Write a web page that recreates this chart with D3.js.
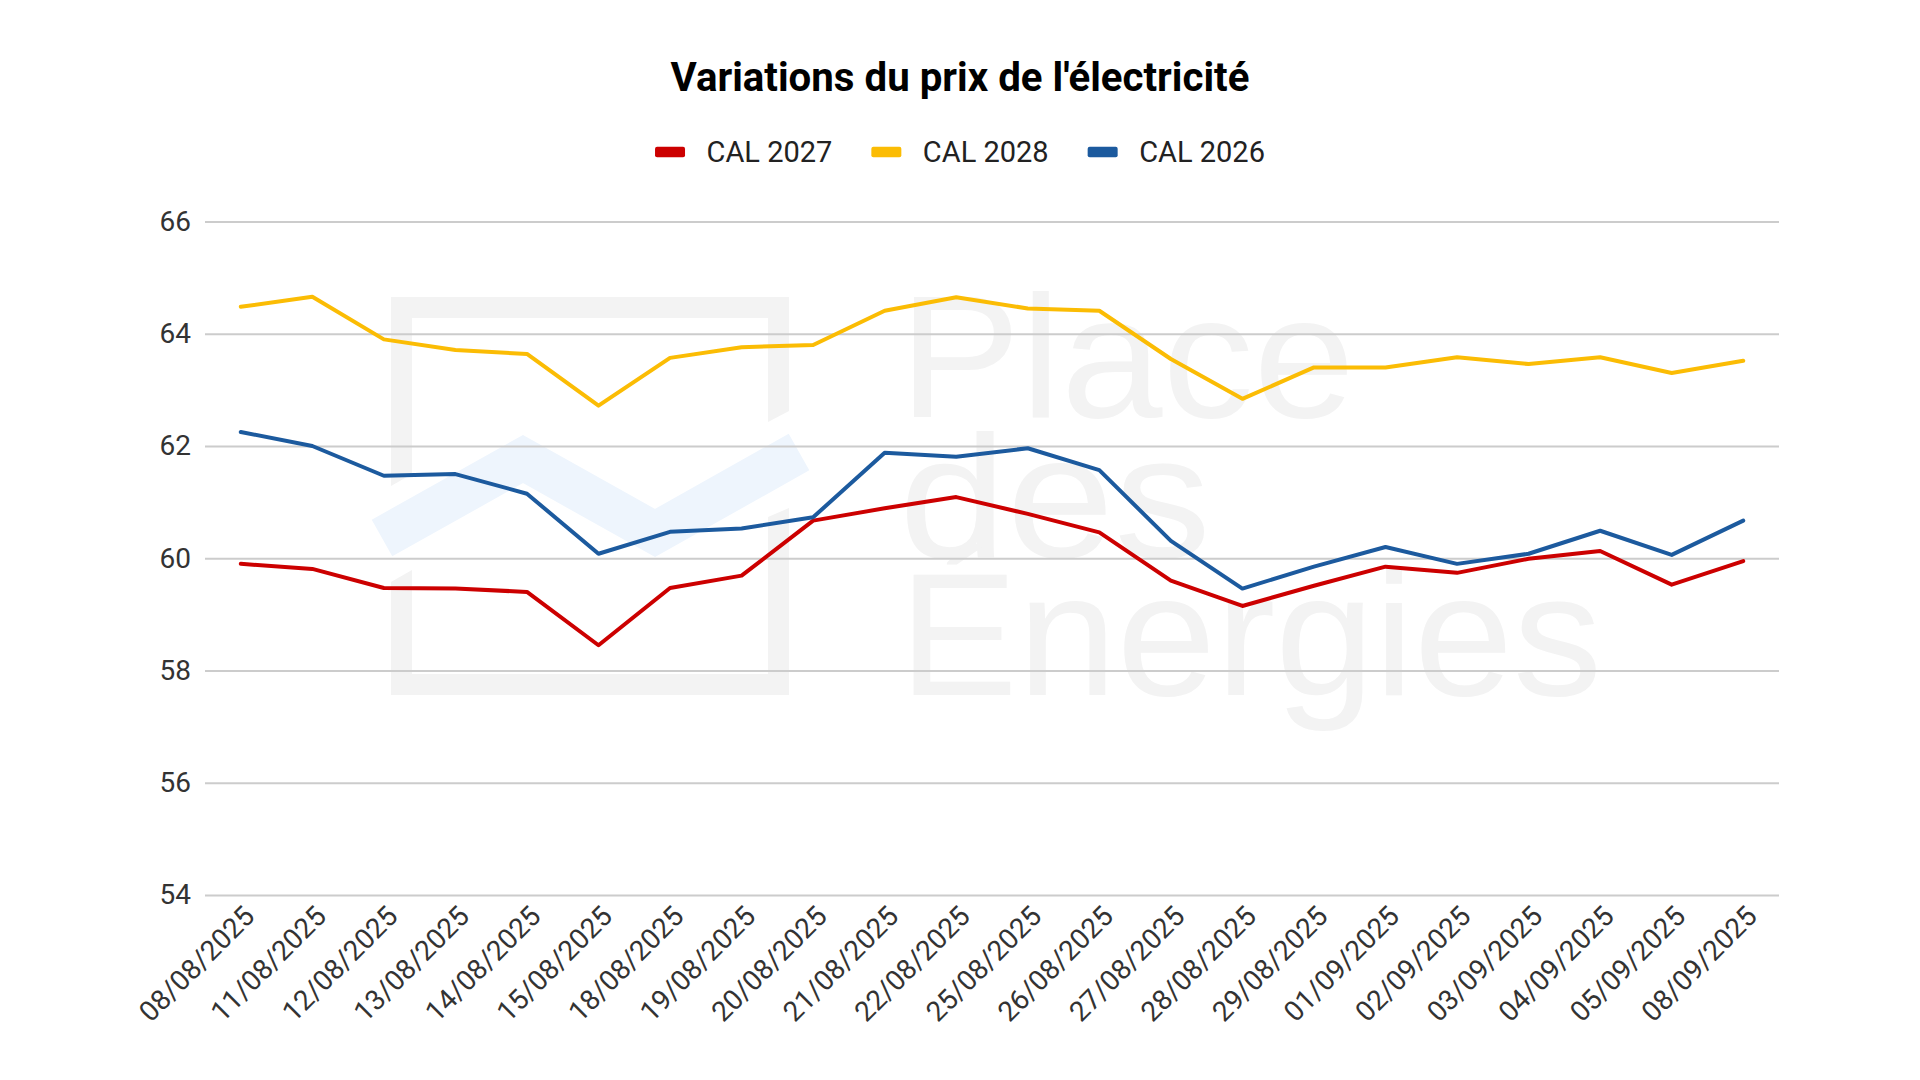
<!DOCTYPE html>
<html>
<head>
<meta charset="utf-8">
<script src="https://cdn.jsdelivr.net/npm/d3@7/dist/d3.min.js"></script>
<style>
  html, body { margin: 0; padding: 0; background: #fff; }
  svg { display: block; }
</style>
</head>
<body>
<svg id="chart" width="1920" height="1080"></svg>
<script>
// ---------- data ----------
const title = "Variations du prix de l'électricité";
const dates = ["08/08/2025","11/08/2025","12/08/2025","13/08/2025","14/08/2025","15/08/2025","18/08/2025","19/08/2025","20/08/2025","21/08/2025","22/08/2025","25/08/2025","26/08/2025","27/08/2025","28/08/2025","29/08/2025","01/09/2025","02/09/2025","03/09/2025","04/09/2025","05/09/2025","08/09/2025"];
const seriesNames = ["CAL 2027", "CAL 2028", "CAL 2026"];
const cal2027 = [59.90, 59.81, 59.47, 59.46, 59.40, 58.45, 59.47, 59.69, 60.67, 60.89, 61.09, 60.79, 60.46, 59.60, 59.15, 59.51, 59.85, 59.74, 59.99, 60.13, 59.53, 59.95];
const cal2028 = [64.48, 64.66, 63.90, 63.71, 63.64, 62.72, 63.57, 63.76, 63.80, 64.41, 64.65, 64.45, 64.41, 63.55, 62.84, 63.40, 63.40, 63.58, 63.46, 63.58, 63.30, 63.52];
const cal2026 = [62.25, 62.00, 61.47, 61.50, 61.15, 60.08, 60.47, 60.53, 60.73, 61.88, 61.81, 61.96, 61.57, 60.31, 59.46, 59.85, 60.20, 59.90, 60.08, 60.49, 60.06, 60.67];
const yTicks = [54, 56, 58, 60, 62, 64, 66];

// ---------- styles ----------
const colors = ["#cc0000", "#fbbc04", "#1c5a9e"];
const seriesValues = [cal2027, cal2028, cal2026];
const series = seriesNames.map((name, i) => ({ name, color: colors[i], values: seriesValues[i] }));

const W = 1920, H = 1080;
const plot = { left: 205, right: 1779, top: 221.5, bottom: 895 };
const font = "Roboto, 'Liberation Sans', Arial, sans-serif";

const svg = d3.select("#chart");
svg.append("rect").attr("width", W).attr("height", H).attr("fill", "#fff");

const x = d3.scalePoint().domain(dates).range([plot.left, plot.right]).padding(0.5);
const y = d3.scaleLinear().domain([54, 66]).range([plot.bottom, plot.top]);

// ---------- watermark (decoration) ----------
const wm = svg.append("g").attr("class", "watermark");
const grey = "#f3f3f3";
const logoPolys = [
  [[391,297],[789,297],[789,318],[391,318]],
  [[391,674],[789,674],[789,695],[391,695]],
  [[391,297],[412,297],[412,474],[391,486]],
  [[391,582],[412,570],[412,695],[391,695]],
  [[768,297],[789,297],[789,411],[768,422]],
  [[768,517],[789,508],[789,695],[768,695]]
];
wm.selectAll("polygon").data(logoPolys).join("polygon")
  .attr("points", d => d.map(p => p.join(",")).join(" "))
  .attr("fill", grey);
wm.append("polyline")
  .attr("points", "382,538 523,459 655,533 799,452")
  .attr("fill", "none").attr("stroke", "#eef5fd").attr("stroke-width", 42)
  .attr("stroke-linejoin", "miter").attr("stroke-linecap", "butt");
const wmWords = [["Place", 417, 456], ["des", 557, 312], ["Énergies", 695, 703]];
wm.selectAll("text").data(wmWords).join("text")
  .attr("x", 899).attr("y", d => d[1])
  .attr("font-family", "'Liberation Sans', Arial, sans-serif")
  .attr("font-size", 175)
  .attr("textLength", d => d[2])
  .attr("lengthAdjust", "spacingAndGlyphs")
  .attr("fill", grey)
  .text(d => d[0]);

// ---------- grid + y axis ----------
const yAxis = d3.axisLeft(y).tickValues(yTicks).tickSize(-(plot.right - plot.left)).tickPadding(14).tickFormat(d3.format("d"));
const gy = svg.append("g").attr("transform", `translate(${plot.left},0)`).call(yAxis);
gy.select(".domain").remove();
gy.selectAll(".tick line").attr("stroke", "#cccccc").attr("stroke-width", 2);
gy.selectAll(".tick text").attr("font-family", font).attr("font-size", 28).attr("fill", "#333");

// ---------- x axis ----------
const xAxis = d3.axisBottom(x).tickSize(0);
const gx = svg.append("g").attr("transform", `translate(0,${plot.bottom})`).call(xAxis);
gx.select(".domain").remove();
gx.selectAll(".tick text")
  .attr("font-family", font).attr("font-size", 28).attr("fill", "#333")
  .attr("x", 0).attr("y", 0).attr("dy", "0.35em")
  .attr("text-anchor", "end")
  .attr("transform", "translate(8,16) rotate(-45)");

// ---------- lines ----------
const line = d3.line().x((d, i) => x(dates[i])).y(d => y(d));
svg.append("g").selectAll("path").data(series).join("path")
  .attr("d", d => line(d.values))
  .attr("fill", "none")
  .attr("stroke", d => d.color)
  .attr("stroke-width", 4)
  .attr("stroke-linejoin", "round")
  .attr("stroke-linecap", "round");

// ---------- title ----------
const t = svg.append("text")
  .attr("x", W / 2).attr("y", 90.7)
  .attr("text-anchor", "middle")
  .attr("font-family", font).attr("font-weight", "bold")
  .attr("font-size", 38).attr("fill", "#000")
  .text(title);
const tw = t.node().getComputedTextLength();
t.attr("font-size", 38 * 579 / tw);

// ---------- legend ----------
const lg = svg.append("g");
const items = lg.selectAll("g").data(series).join("g");
items.append("rect").attr("width", 30).attr("height", 10.6).attr("y", 146.7).attr("rx", 2)
  .attr("fill", d => d.color);
items.append("text").attr("x", 51.5).attr("y", 162.3)
  .attr("font-family", font).attr("font-size", 29).attr("fill", "#222")
  .text(d => d.name);
let widths = [];
items.each(function () { widths.push(51.5 + d3.select(this).select("text").node().getComputedTextLength()); });
const gap = 39;
const total = d3.sum(widths) + gap * (widths.length - 1);
let cx = W / 2 - total / 2;
items.attr("transform", (d, i) => { const tx = cx; cx += widths[i] + gap; return `translate(${tx},0)`; });
</script>
</body>
</html>
